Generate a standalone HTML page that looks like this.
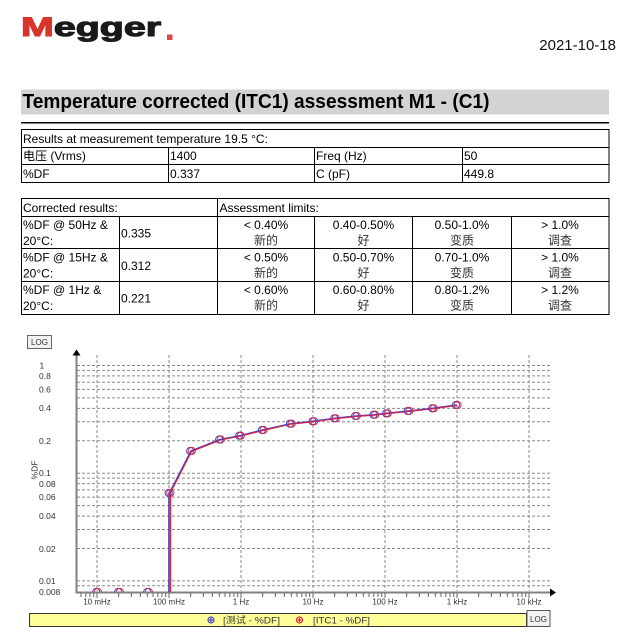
<!DOCTYPE html>
<html><head><meta charset="utf-8"><style>
html,body{margin:0;padding:0;background:#fff;}
svg{display:block;}
text{font-family:"Liberation Sans","Noto Sans CJK SC",sans-serif;}
</style></head><body>
<svg width="630" height="640" viewBox="0 0 630 640" xmlns="http://www.w3.org/2000/svg">
<rect width="630" height="640" fill="#fff"/>
<!-- Logo -->
<g transform="translate(21,36) scale(1.46,1)">
<text x="0" y="0" font-size="27" font-weight="bold"><tspan fill="#d8342b" stroke="#d8342b" stroke-width="1.1">M</tspan><tspan fill="#1a1a1a" stroke="#1a1a1a" stroke-width="1.1">egger</tspan></text>
</g>
<rect x="167" y="34.5" width="5.5" height="5.5" fill="#e04848"/>
<!-- Date -->
<text x="616" y="50" font-size="15" text-anchor="end" fill="#111">2021-10-18</text>
<!-- Title band -->
<rect x="21" y="89.5" width="588" height="25" fill="#d3d3d3"/>
<text x="22.5" y="108" font-size="20" font-weight="bold" fill="#000" textLength="467" lengthAdjust="spacingAndGlyphs">Temperature corrected (ITC1) assessment M1 - (C1)</text>
<line x1="21" y1="122.75" x2="609" y2="122.75" stroke="#000" stroke-width="1.5"/>

<!-- Table 1 -->
<g stroke="#000" stroke-width="1" fill="none">
<rect x="21.5" y="129.5" width="587.5" height="53"/>
<line x1="21.5" y1="147.5" x2="609" y2="147.5"/>
<line x1="21.5" y1="164.5" x2="609" y2="164.5"/>
<line x1="168.5" y1="147.5" x2="168.5" y2="182.5"/>
<line x1="314.5" y1="147.5" x2="314.5" y2="182.5"/>
<line x1="462.5" y1="147.5" x2="462.5" y2="182.5"/>
</g>
<g font-size="12" fill="#000">
<text x="23" y="143">Results at measurement temperature 19.5 °C:</text>
<text x="23" y="160">电压 (Vrms)</text>
<text x="170" y="160">1400</text>
<text x="316" y="160">Freq (Hz)</text>
<text x="464" y="160">50</text>
<text x="23" y="178">%DF</text>
<text x="170" y="178">0.337</text>
<text x="316" y="178">C (pF)</text>
<text x="464" y="178">449.8</text>
</g>

<!-- Table 2 -->
<g stroke="#000" stroke-width="1" fill="none">
<rect x="21.5" y="198.5" width="587.5" height="116"/>
<line x1="21.5" y1="216.5" x2="609" y2="216.5"/>
<line x1="21.5" y1="248.5" x2="609" y2="248.5"/>
<line x1="21.5" y1="281.5" x2="609" y2="281.5"/>
<line x1="217.5" y1="198.5" x2="217.5" y2="314.5"/>
<line x1="119.5" y1="216.5" x2="119.5" y2="314.5"/>
<line x1="314.5" y1="216.5" x2="314.5" y2="314.5"/>
<line x1="412.5" y1="216.5" x2="412.5" y2="314.5"/>
<line x1="511.5" y1="216.5" x2="511.5" y2="314.5"/>
</g>
<g font-size="12" fill="#000">
<text x="23" y="212">Corrected results:</text>
<text x="219.5" y="212">Assessment limits:</text>

<text x="23" y="229">%DF @ 50Hz &amp;</text>
<text x="23" y="245">20°C:</text>
<text x="121" y="237.5">0.335</text>
<text x="23" y="261.5">%DF @ 15Hz &amp;</text>
<text x="23" y="277.5">20°C:</text>
<text x="121" y="270">0.312</text>
<text x="23" y="294">%DF @ 1Hz &amp;</text>
<text x="23" y="310">20°C:</text>
<text x="121" y="302.5">0.221</text>

<g text-anchor="middle">
<text x="266" y="229">&lt; 0.40%</text>
<text x="363.5" y="229">0.40-0.50%</text>
<text x="462" y="229">0.50-1.0%</text>
<text x="560" y="229">&gt; 1.0%</text>
<text x="266" y="244.5" fill="#333">新的</text>
<text x="363.5" y="244.5" fill="#333">好</text>
<text x="462" y="244.5" fill="#333">变质</text>
<text x="560" y="244.5" fill="#333">调查</text>

<text x="266" y="261.5">&lt; 0.50%</text>
<text x="363.5" y="261.5">0.50-0.70%</text>
<text x="462" y="261.5">0.70-1.0%</text>
<text x="560" y="261.5">&gt; 1.0%</text>
<text x="266" y="277" fill="#333">新的</text>
<text x="363.5" y="277" fill="#333">好</text>
<text x="462" y="277" fill="#333">变质</text>
<text x="560" y="277" fill="#333">调查</text>

<text x="266" y="294">&lt; 0.60%</text>
<text x="363.5" y="294">0.60-0.80%</text>
<text x="462" y="294">0.80-1.2%</text>
<text x="560" y="294">&gt; 1.2%</text>
<text x="266" y="309.5" fill="#333">新的</text>
<text x="363.5" y="309.5" fill="#333">好</text>
<text x="462" y="309.5" fill="#333">变质</text>
<text x="560" y="309.5" fill="#333">调查</text>
</g>
</g>

<!-- Chart -->
<rect x="27.5" y="335.5" width="24" height="13" fill="#f2f2f2" stroke="#666" stroke-width="1"/>
<text x="39.5" y="345" font-size="8" text-anchor="middle" fill="#333">LOG</text>

<!-- grid -->
<g stroke="#8a8a8a" stroke-width="1" stroke-dasharray="3,2" fill="none">
<path d="M77 365.5H550M77 370.4H550M77 375.9H550M77 382.2H550M77 389.4H550M77 397.9H550M77 408.4H550M77 421.8H550M77 440.8H550M77 473.2H550M77 478.1H550M77 483.6H550M77 489.9H550M77 497.1H550M77 505.6H550M77 516.1H550M77 529.5H550M77 548.5H550M77 580.9H550M77 585.8H550"/>
<path d="M97 355V591M169 355V591M241 355V591M313 355V591M385 355V591M457 355V591M529 355V591"/>
</g>

<!-- axes -->
<line x1="76.5" y1="354" x2="76.5" y2="593.5" stroke="#808080" stroke-width="2"/>
<polygon points="72.5,355.5 80.5,355.5 76.5,349.5" fill="#000"/>
<line x1="75.5" y1="592.5" x2="551" y2="592.5" stroke="#808080" stroke-width="2"/>
<polygon points="550,588.5 550,596.5 556,592.5" fill="#000"/>

<!-- x ticks -->
<g stroke="#666" stroke-width="1" fill="none">
<path d="M81 593v4M85.8 593v4M90 593v4M93.7 593v4M97 593v5M118.7 593v4M131.4 593v4M140.4 593v4M147.3 593v4M153 593v4M157.8 593v4M162 593v4M165.7 593v4M169 593v5M190.7 593v4M203.4 593v4M212.4 593v4M219.3 593v4M225 593v4M229.8 593v4M234 593v4M237.7 593v4M241 593v5M262.7 593v4M275.4 593v4M284.4 593v4M291.3 593v4M297 593v4M301.8 593v4M306 593v4M309.7 593v4M313 593v5M334.7 593v4M347.4 593v4M356.4 593v4M363.3 593v4M369 593v4M373.8 593v4M378 593v4M381.7 593v4M385 593v5M406.7 593v4M419.4 593v4M428.4 593v4M435.3 593v4M441 593v4M445.8 593v4M450 593v4M453.7 593v4M457 593v5M478.7 593v4M491.4 593v4M500.4 593v4M507.3 593v4M513 593v4M517.8 593v4M522 593v4M525.7 593v4M529 593v5"/>
</g>

<!-- x labels -->
<g font-size="8" fill="#333" text-anchor="middle">
<text x="97" y="604.5">10 mHz</text>
<text x="169" y="604.5">100 mHz</text>
<text x="241" y="604.5">1 Hz</text>
<text x="313" y="604.5">10 Hz</text>
<text x="385" y="604.5">100 Hz</text>
<text x="457" y="604.5">1 kHz</text>
<text x="529" y="604.5">10 kHz</text>
</g>

<!-- y labels -->
<g font-size="8.5" fill="#333">
<text x="39.5" y="368.5">1</text>
<text x="39" y="379">0.8</text>
<text x="39" y="392.5">0.6</text>
<text x="39" y="411">0.4</text>
<text x="39" y="444">0.2</text>
<text x="39" y="476">0.1</text>
<text x="39" y="487">0.08</text>
<text x="39" y="500">0.06</text>
<text x="39" y="519">0.04</text>
<text x="39" y="552">0.02</text>
<text x="39" y="584">0.01</text>
<text x="39" y="595">0.008</text>
</g>
<text x="0" y="0" font-size="8.5" fill="#333" text-anchor="middle" transform="translate(37.5,470) rotate(-90)">%DF</text>

<!-- series -->
<defs><clipPath id="pc"><rect x="77" y="340" width="480" height="252"/></clipPath></defs>
<g clip-path="url(#pc)">
<line x1="168.9" y1="593" x2="168.9" y2="493" stroke="#4a4ad6" stroke-width="1.6"/>
<line x1="170.4" y1="593" x2="170.4" y2="493" stroke="#e02838" stroke-width="1.6"/>
<polyline fill="none" stroke="#4040d0" stroke-width="1.5" points="169.5,493 191,451 220,439.5 240,435.7 262.7,430 290.7,423.7 313.3,421.3 335,418.3 356,416 374.3,414.7 387,413.3 408.5,411 433,408.3 456.7,405"/>
<polyline fill="none" stroke="#d82040" stroke-width="1.2" transform="translate(0.6,0.4)" points="169.5,493 191,451 220,439.5 240,435.7 262.7,430 290.7,423.7 313.3,421.3 335,418.3 356,416 374.3,414.7 387,413.3 408.5,411 433,408.3 456.7,405"/>
<g fill="none" stroke-width="1">
<g stroke="#4040d0">
<circle cx="96.2" cy="592" r="3.6"/><circle cx="118.2" cy="592" r="3.6"/><circle cx="147.2" cy="592" r="3.6"/>
<circle cx="168.7" cy="493" r="3.6"/><circle cx="190.2" cy="451" r="3.6"/><circle cx="219.2" cy="439.5" r="3.6"/><circle cx="239.2" cy="435.7" r="3.6"/><circle cx="261.9" cy="430" r="3.6"/><circle cx="289.9" cy="423.7" r="3.6"/><circle cx="312.5" cy="421.3" r="3.6"/><circle cx="334.2" cy="418.3" r="3.6"/><circle cx="355.2" cy="416" r="3.6"/><circle cx="373.5" cy="414.7" r="3.6"/><circle cx="386.2" cy="413.3" r="3.6"/><circle cx="407.7" cy="411" r="3.6"/><circle cx="432.2" cy="408.3" r="3.6"/><circle cx="455.9" cy="405" r="3.6"/>
</g>
<g stroke="#e02838">
<circle cx="97.8" cy="592" r="3.6"/><circle cx="119.8" cy="592" r="3.6"/><circle cx="148.8" cy="592" r="3.6"/>
<circle cx="170.3" cy="493" r="3.6"/><circle cx="191.8" cy="451" r="3.6"/><circle cx="220.8" cy="439.5" r="3.6"/><circle cx="240.8" cy="435.7" r="3.6"/><circle cx="263.5" cy="430" r="3.6"/><circle cx="291.5" cy="423.7" r="3.6"/><circle cx="314.1" cy="421.3" r="3.6"/><circle cx="335.8" cy="418.3" r="3.6"/><circle cx="356.8" cy="416" r="3.6"/><circle cx="375.1" cy="414.7" r="3.6"/><circle cx="387.8" cy="413.3" r="3.6"/><circle cx="409.3" cy="411" r="3.6"/><circle cx="433.8" cy="408.3" r="3.6"/><circle cx="457.5" cy="405" r="3.6"/>
</g>
</g>
</g>

<!-- legend bar -->
<rect x="29.5" y="613.5" width="497" height="13" fill="#ffff99" stroke="#333" stroke-width="1"/>
<rect x="527" y="610.5" width="23" height="16" fill="#f2f2f2" stroke="#555" stroke-width="1"/>
<text x="538.5" y="622" font-size="8" text-anchor="middle" fill="#333">LOG</text>
<g fill="none" stroke-width="1.2">
<circle cx="211" cy="620" r="3" stroke="#4040d0"/>
<path d="M209 620h4M211 618v4" stroke="#4040d0"/>
<circle cx="299.5" cy="620" r="3" stroke="#e02838"/>
<path d="M297.5 620h4M299.5 618v4" stroke="#e02838"/>
</g>
<g font-size="9.5" fill="#333">
<text x="223" y="623.5" textLength="57" lengthAdjust="spacingAndGlyphs">[测试 - %DF]</text>
<text x="313" y="623.5" textLength="57" lengthAdjust="spacingAndGlyphs">[ITC1 - %DF]</text>
</g>
</svg>
</body></html>
